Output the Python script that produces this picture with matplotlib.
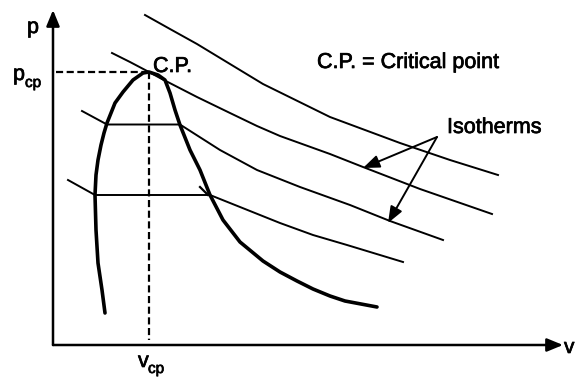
import matplotlib

matplotlib.use("Agg")
import matplotlib.patheffects as pe
import matplotlib.pyplot as plt

plt.rcParams["font.family"] = ["Liberation Sans", "DejaVu Sans"]

# saturation dome (v, p), left branch bottom -> critical point -> right branch
dome_v = [52, 49, 45, 43, 42, 43, 45, 48, 51, 54, 62, 70, 80, 90, 96,
          105, 112, 117, 122, 127, 137, 147, 157, 170, 187, 210, 227, 244,
          260, 277, 292, 324]
dome_p = [32, 55, 82, 115, 150, 170, 185, 200, 212, 222, 242, 253, 265, 272, 273,
          270, 265, 252, 235, 220, 195, 175, 150, 125, 103, 84, 73, 64,
          56, 49, 44, 38]

# critical point
cp_v, cp_p = 96, 273

# isotherms, highest temperature first (the two lower ones cross the dome
# along a horizontal tie line)
iso1_v = [92, 117, 144, 177, 210, 277, 347, 397, 445]
iso1_p = [330, 316, 301, 281, 261, 228, 202, 185, 170]
iso2_v = [59, 77, 96, 107, 144, 177, 204, 227, 277, 310, 367, 439]
iso2_p = [292, 283, 273, 267, 248, 232, 219, 209, 191, 178, 156, 131]
iso3_v = [29, 54, 127, 167, 204, 247, 297, 337, 390]
iso3_p = [234, 220.5, 220.5, 195, 175, 158, 140, 124, 105]
iso4_v = [15, 42, 157, 192, 227, 260, 294, 350]
iso4_p = [165, 150, 150, 136, 122, 110, 100, 83]

# "Isotherms" callout: tail and the two heads
label_tail = (384, 208)
label_heads = [(310, 177), (335, 122)]

fig = plt.figure(figsize=(5.75, 3.79), dpi=100)
ax = fig.add_axes([0, 0, 1, 1])
ax.set_xlim(-53, 522)
ax.set_ylim(-34, 345)
ax.axis("off")

# coordinate axes with arrow tips
axis_arrow = dict(arrowstyle="-|>,head_length=0.8,head_width=0.33",
                  mutation_scale=12, lw=1.8, color="black",
                  shrinkA=0, shrinkB=0)
ax.annotate("", xy=(0, 335), xytext=(0, 0), arrowprops=axis_arrow)
ax.annotate("", xy=(510, 0), xytext=(0, 0), arrowprops=axis_arrow)

for v, p in [(iso1_v, iso1_p), (iso2_v, iso2_p), (iso3_v, iso3_p), (iso4_v, iso4_p)]:
    ax.plot(v, p, color="black", lw=1.4, solid_joinstyle="round")

ax.plot(dome_v, dome_p, color="black", lw=2.6, solid_joinstyle="round",
        solid_capstyle="round")

# small tick at the right end of the lower tie line
ax.plot([147, 155], [158, 150], color="black", lw=1.6)

# dashed guides to the critical point
ax.plot([3, cp_v], [cp_p, cp_p], color="black", lw=1.6, dashes=(3.2, 1.6))
ax.plot([cp_v, cp_v], [cp_p, 5], color="black", lw=1.6, dashes=(3.2, 1.6))

call_arrow = dict(arrowstyle="-|>,head_length=0.9,head_width=0.35",
                  mutation_scale=11, lw=1.4, color="black",
                  shrinkA=0, shrinkB=0)
for head in label_heads:
    ax.annotate("", xy=head, xytext=label_tail, arrowprops=call_arrow)

# slightly heavier glyphs
heavy = [pe.withStroke(linewidth=0.5, foreground="black")]
fs = 15.5
labels = [
    (-20, 312, "p", fs, "center"),
    (-40, 265, "p", fs, "left"),
    (-28, 258, "cp", 11, "left"),
    (85, -22, "v", fs, "left"),
    (95, -28, "cp", 11, "left"),
    (511, -8, "v", 15, "left"),
    (100, 273, "C.P.", fs, "left"),
    (264, 277, "C.P. = Critical point", fs, "left"),
    (394, 212, "Isotherms", fs, "left"),
]
for x, y, s, size, ha in labels:
    ax.text(x, y, s, fontsize=size, ha=ha, va="baseline", path_effects=heavy)

fig.savefig("out.png", dpi=100)
